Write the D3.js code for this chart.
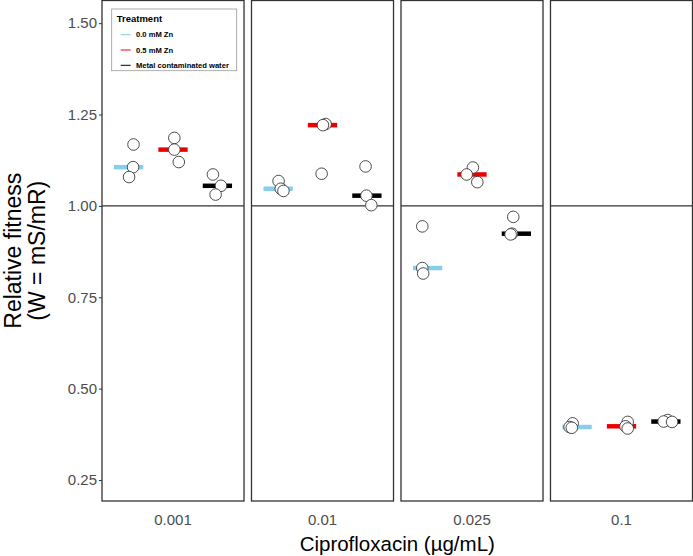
<!DOCTYPE html>
<html>
<head>
<meta charset="utf-8">
<script src="https://cdn.jsdelivr.net/npm/d3@7"></script>
<style>
  html, body { margin: 0; padding: 0; background: #fff; }
  svg { display: block; font-family: "Liberation Sans", Arial, sans-serif; }
</style>
</head>
<body>
<svg id="chart" width="693" height="556"></svg>
<script>
// ---------------- DATA ----------------
const concentrations = ["0.001", "0.01", "0.025", "0.1"];
const treatments = ["0.0 mM Zn", "0.5 mM Zn", "Metal contaminated water"];
const yTicks = [0.25, 0.50, 0.75, 1.00, 1.25, 1.50];
const referenceFitness = 1.0;

// replicate relative fitness values, [treatment][replicate]
const fitness_0_001 = [[1.168, 1.106, 1.079], [1.186, 1.154, 1.120], [1.086, 1.055, 1.031]];
const fitness_0_01  = [[1.068, 1.047, 1.041], [1.224, 1.221, 1.088], [1.108, 1.028, 1.002]];
const fitness_0_025 = [[0.944, 0.830, 0.815], [1.105, 1.086, 1.065], [0.970, 0.924, 0.922]];
const fitness_0_1   = [[0.405, 0.395, 0.393], [0.409, 0.397, 0.391], [0.414, 0.410, 0.409]];

// horizontal jitter of each replicate (in units of the treatment step)
const jitter_0_001 = [[0.11, 0.10, 0.01], [0.03, 0.03, 0.13], [-0.10, 0.08, -0.04]];
const jitter_0_01  = [[0.01, 0.06, 0.12], [0.07, 0.01, -0.02], [-0.03, -0.01, 0.10]];
const jitter_0_025 = [[-0.12, -0.12, -0.10], [0.02, -0.12, 0.12], [-0.07, -0.10, -0.13]];
const jitter_0_1   = [[-0.10, -0.17, -0.12], [0.14, 0.09, 0.14], [0.04, -0.05, 0.14]];

const fitnessByConc = [fitness_0_001, fitness_0_01, fitness_0_025, fitness_0_1];
const jitterByConc = [jitter_0_001, jitter_0_01, jitter_0_025, jitter_0_1];

// ---------------- STYLE ----------------
const colors = ["#87CEEB", "#EE0000", "#000000"];
const plotLeft = 102, plotRight = 692.5, plotTop = 0.5, plotBottom = 501;

const svg = d3.select("#chart");

// scales
const panelScale = d3.scaleBand()
  .domain(concentrations)
  .range([plotLeft, plotRight])
  .paddingInner(0.05)
  .paddingOuter(0);

const pw = panelScale.bandwidth();
const treatScale = d3.scalePoint()
  .domain(treatments)
  .range([0, pw])
  .padding(0.6);
const step = treatScale.step();

const y = d3.scaleLinear()
  .domain([0.1926, 1.562])
  .range([plotBottom, plotTop]);

const color = d3.scaleOrdinal().domain(treatments).range(colors);

// panels
concentrations.forEach((c, ci) => {
  const g = svg.append("g").attr("transform", `translate(${panelScale(c)},0)`);
  g.append("line")
    .attr("x1", 0).attr("x2", pw)
    .attr("y1", y(referenceFitness)).attr("y2", y(referenceFitness))
    .attr("stroke", "#000").attr("stroke-width", 1);

  const data = fitnessByConc[ci];
  const jit = jitterByConc[ci];

  g.selectAll("line.median")
    .data(treatments)
    .enter().append("line")
    .attr("class", "median")
    .attr("x1", (t) => treatScale(t) - 0.33 * step)
    .attr("x2", (t) => treatScale(t) + 0.33 * step)
    .attr("y1", (t, i) => y(d3.median(data[i])))
    .attr("y2", (t, i) => y(d3.median(data[i])))
    .attr("stroke", (t) => color(t))
    .attr("stroke-width", 4.5);

  const pts = [];
  treatments.forEach((t, ti) => {
    data[ti].forEach((v, ri) => pts.push({ t, v, j: jit[ti][ri] }));
  });
  g.selectAll("circle")
    .data(pts)
    .enter().append("circle")
    .attr("cx", (d) => treatScale(d.t) + d.j * step)
    .attr("cy", (d) => y(d.v))
    .attr("r", 5.8)
    .attr("fill", "#fff")
    .attr("stroke", "#3a3a3a")
    .attr("stroke-width", 0.9);

  g.append("rect")
    .attr("x", 0).attr("y", plotTop)
    .attr("width", pw).attr("height", plotBottom - plotTop)
    .attr("fill", "none")
    .attr("stroke", "#333").attr("stroke-width", 1.3);
});

// y axis
const yAxis = svg.append("g")
  .attr("transform", `translate(${plotLeft},0)`)
  .call(d3.axisLeft(y).tickValues(yTicks).tickFormat(d3.format(".2f")).tickSize(3).tickPadding(2));
yAxis.select(".domain").remove();
yAxis.selectAll(".tick line").attr("stroke", "#333").attr("stroke-width", 1);
yAxis.selectAll(".tick text").attr("fill", "#4d4d4d").style("font-size", "15px");

// x axis
const xAxis = svg.append("g")
  .attr("transform", `translate(0,${plotBottom})`)
  .call(d3.axisBottom(panelScale).tickSize(0).tickPadding(13));
xAxis.select(".domain").remove();
xAxis.selectAll(".tick text").attr("fill", "#4d4d4d").style("font-size", "15px");

// axis titles
svg.append("text")
  .attr("x", (plotLeft + plotRight) / 2)
  .attr("y", 551)
  .attr("text-anchor", "middle")
  .attr("fill", "#000")
  .style("font-size", "20.5px")
  .text("Ciprofloxacin (µg/mL)");

const yt = svg.append("text")
  .attr("transform", `translate(0,${(plotTop + plotBottom) / 2}) rotate(-90)`)
  .attr("text-anchor", "middle")
  .attr("fill", "#000")
  .style("font-size", "23px");
yt.append("tspan").attr("x", 0).attr("y", 21).text("Relative fitness");
yt.append("tspan").attr("x", 0).attr("y", 45).text("(W = mS/mR)");

// legend
const lg = svg.append("g").attr("transform", "translate(111.7,9)");
lg.append("rect")
  .attr("width", 125).attr("height", 61.7)
  .attr("fill", "#fff")
  .attr("stroke", "#999").attr("stroke-width", 0.8);
lg.append("text")
  .attr("x", 5).attr("y", 13)
  .style("font-size", "9.5px").style("font-weight", "bold")
  .text("Treatment");
treatments.forEach((t, i) => {
  const yy = 25.7 + i * 15.3;
  lg.append("line")
    .attr("x1", 9).attr("x2", 19)
    .attr("y1", yy).attr("y2", yy)
    .attr("stroke", color(t)).attr("stroke-width", 1);
  lg.append("text")
    .attr("x", 24.3).attr("y", yy + 2.7)
    .style("font-size", "7.6px").style("font-weight", "bold")
    .text(t);
});
</script>
</body>
</html>
